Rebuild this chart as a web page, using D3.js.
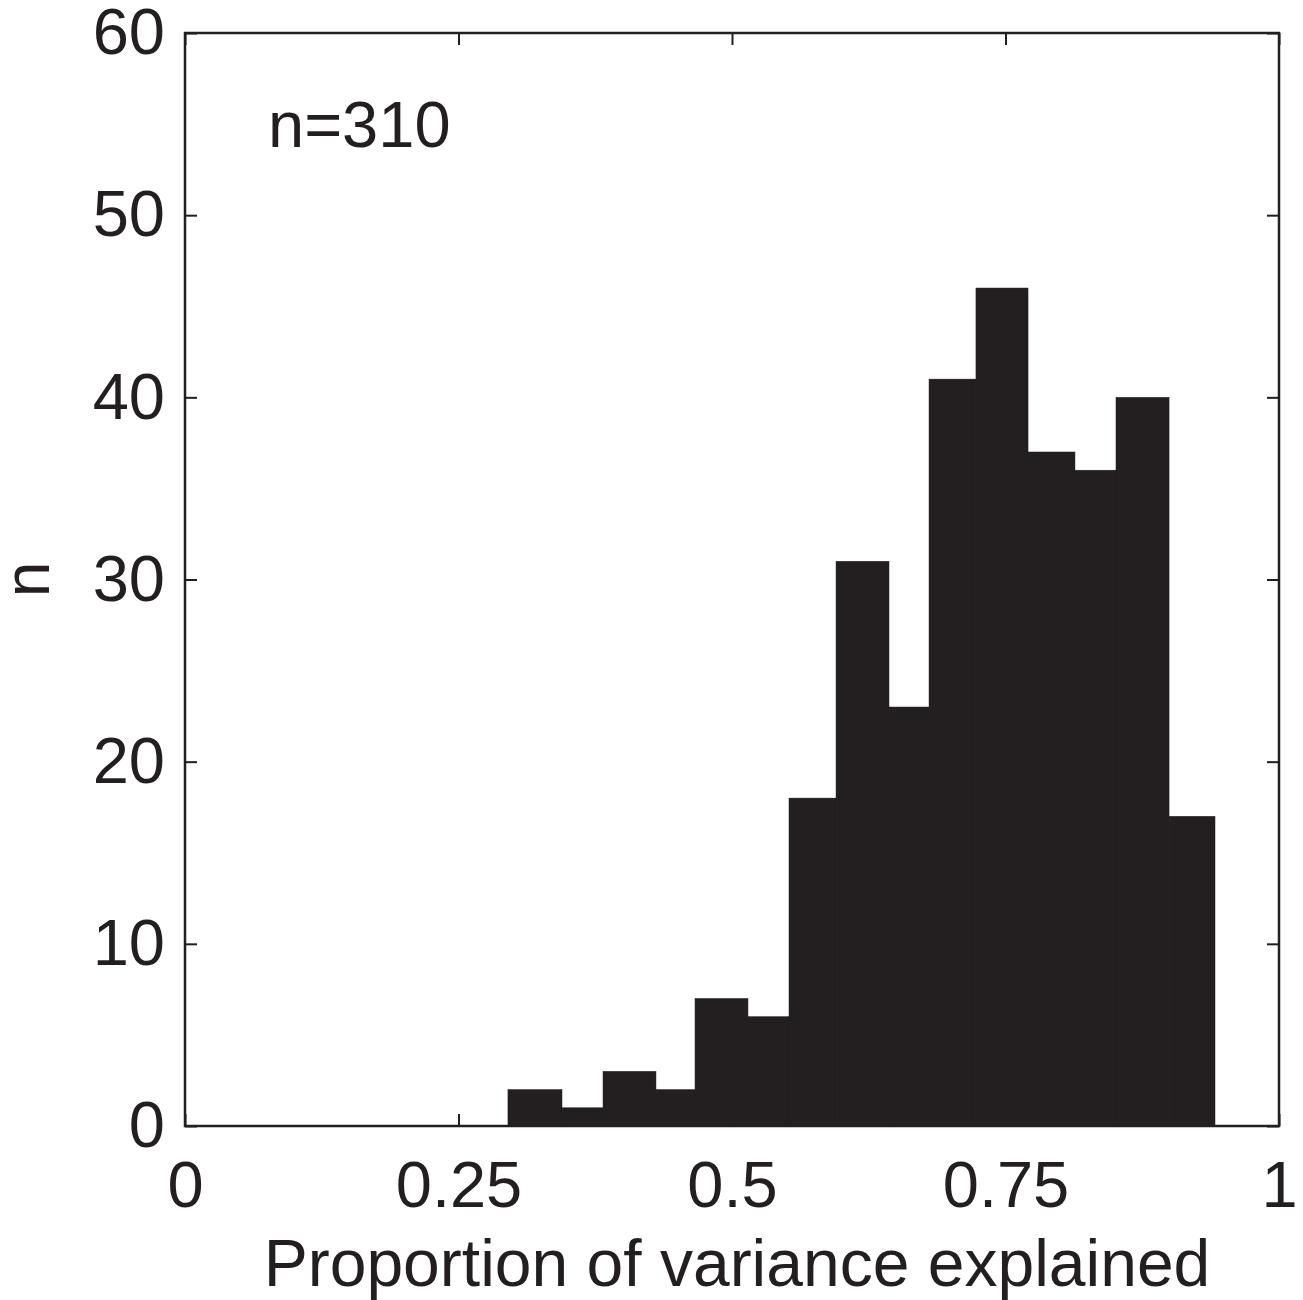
<!DOCTYPE html>
<html><head><meta charset="utf-8">
<script src="https://cdn.jsdelivr.net/npm/d3@7"></script>
<style>body{margin:0;background:#fff}</style>
</head><body><div id="chart"></div>
<script>
const binEdges = [0.2952,0.3446,0.3821,0.4305,0.4662,0.5146,0.5521,0.5951,0.6435,0.6801,0.7230,0.7706,0.8135,0.8510,0.8995,0.9415];
const counts = [2,1,3,2,7,6,18,31,23,41,46,37,36,40,17];
const xTicks = [0,0.25,0.5,0.75,1];
const xTickLabels = ["0","0.25","0.5","0.75","1"];
const yTicks = [0,10,20,30,40,50,60];
const xLabel = "Proportion of variance explained";
const yLabel = "n";
const annotation = "n=310";

const W=1303,H=1300;
const m={l:185,r:W-1279,t:33,b:H-1126};
const ink="#231f20";
const svg=d3.select("#chart").append("svg").attr("width",W).attr("height",H);
const x=d3.scaleLinear().domain([0,1]).range([m.l,W-m.r]);
const y=d3.scaleLinear().domain([0,60]).range([H-m.b,m.t]);
const font="'Liberation Sans', Arial, Helvetica, sans-serif";

const bins=counts.map((c,i)=>({x0:binEdges[i],x1:binEdges[i+1],c}));
svg.append("g").selectAll("rect").data(bins).join("rect")
  .attr("x",d=>x(d.x0)).attr("width",d=>x(d.x1)-x(d.x0))
  .attr("y",d=>y(d.c)).attr("height",d=>y(0)-y(d.c))
  .attr("fill",ink).attr("stroke",ink).attr("stroke-width",0.5);

const tl=12;
const axB=svg.append("g").attr("transform",`translate(0,${y(0)})`)
  .call(d3.axisBottom(x).tickValues(xTicks).tickFormat((d,i)=>xTickLabels[i]).tickSizeInner(-tl).tickSizeOuter(0).tickPadding(34));
const axT=svg.append("g").attr("transform",`translate(0,${y(60)})`)
  .call(d3.axisTop(x).tickValues(xTicks).tickFormat("").tickSizeInner(-tl).tickSizeOuter(0));
const axL=svg.append("g").attr("transform",`translate(${x(0)},0)`)
  .call(d3.axisLeft(y).tickValues(yTicks).tickSizeInner(-tl).tickSizeOuter(0).tickPadding(20));
const axR=svg.append("g").attr("transform",`translate(${x(1)},0)`)
  .call(d3.axisRight(y).tickValues(yTicks).tickFormat("").tickSizeInner(-tl).tickSizeOuter(0));
[axB,axT,axL,axR].forEach(a=>{
  a.select(".domain").remove();
  a.selectAll("line").attr("stroke",ink).attr("stroke-width",2);
  a.selectAll("text").attr("fill",ink).style("font-family",font).style("font-size","65px");
});
axB.selectAll("text").attr("dy",0).attr("y",81);
svg.append("rect").attr("x",x(0)).attr("y",y(60)).attr("width",x(1)-x(0)).attr("height",y(0)-y(60))
  .attr("fill","none").attr("stroke",ink).attr("stroke-width",2.5);

svg.append("text").attr("x",737).attr("y",1286).attr("text-anchor","middle")
  .attr("fill",ink).style("font-family",font).style("font-size","66px").text(xLabel);
svg.append("text").attr("transform",`translate(49,${y(30)}) rotate(-90)`).attr("text-anchor","middle")
  .attr("fill",ink).style("font-family",font).style("font-size","64px").text(yLabel);
svg.append("text").attr("x",268).attr("y",147).attr("fill",ink)
  .style("font-family",font).style("font-size","65px").text(annotation);
</script></body></html>
